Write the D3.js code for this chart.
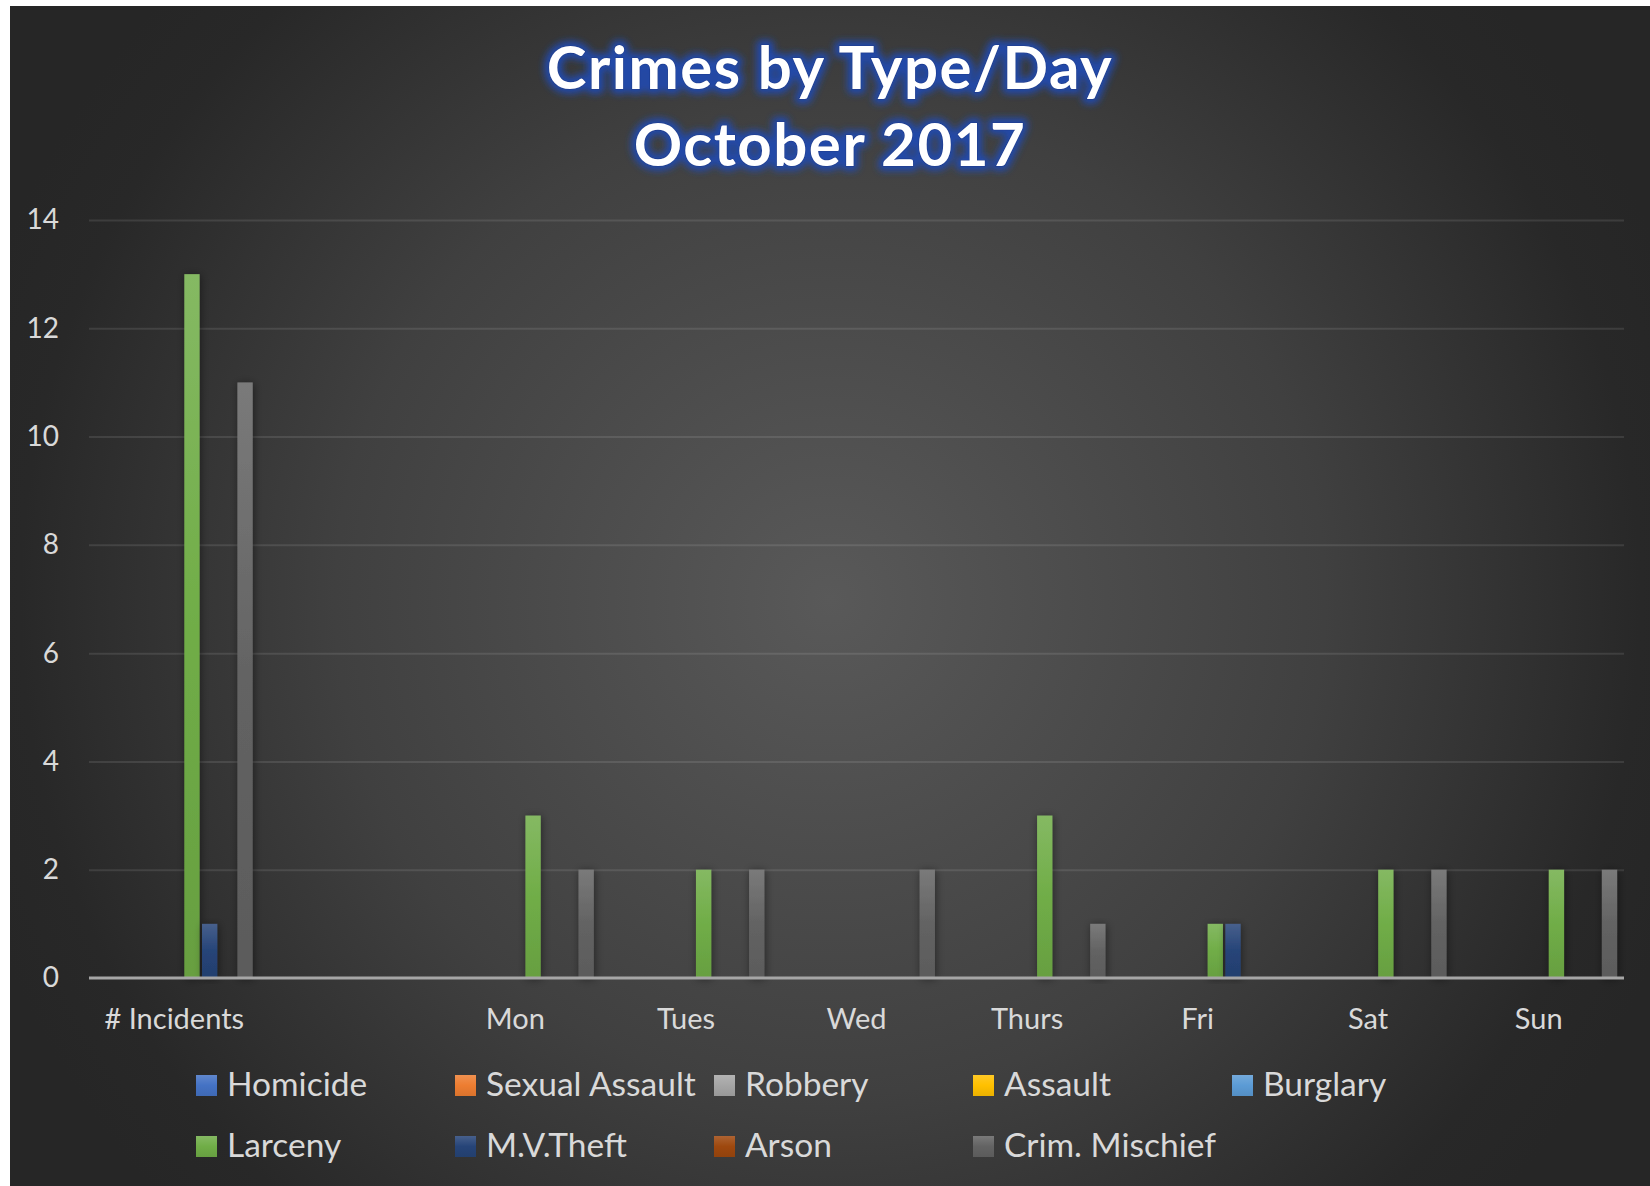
<!DOCTYPE html>
<html>
<head>
<meta charset="utf-8">
<script src="https://cdn.jsdelivr.net/npm/d3@7"></script>
<style>
  body { margin: 0; background: #fff; }
  svg { display: block; }
</style>
</head>
<body>
<div id="chart"></div>
<script>
const categories = ['# Incidents', '', 'Mon', 'Tues', 'Wed', 'Thurs', 'Fri', 'Sat', 'Sun'];
const seriesNames = ['Homicide', 'Sexual Assault', 'Robbery', 'Assault', 'Burglary', 'Larceny', 'M.V.Theft', 'Arson', 'Crim. Mischief'];
const seriesColors = ['#4472c4', '#ed7d31', '#a5a5a5', '#ffc000', '#5b9bd5', '#70ad47', '#264478', '#9e480e', '#636363'];

// one value per category, same order as categories
const homicide      = [0, 0, 0, 0, 0, 0, 0, 0, 0];
const sexualAssault = [0, 0, 0, 0, 0, 0, 0, 0, 0];
const robbery       = [0, 0, 0, 0, 0, 0, 0, 0, 0];
const assault       = [0, 0, 0, 0, 0, 0, 0, 0, 0];
const burglary      = [0, 0, 0, 0, 0, 0, 0, 0, 0];
const larceny       = [13, 0, 3, 2, 0, 3, 1, 2, 2];
const mvTheft       = [1, 0, 0, 0, 0, 0, 1, 0, 0];
const arson         = [0, 0, 0, 0, 0, 0, 0, 0, 0];
const crimMischief  = [11, 0, 2, 2, 2, 1, 0, 2, 2];

const seriesValues = [homicide, sexualAssault, robbery, assault, burglary, larceny, mvTheft, arson, crimMischief];
const yTicks = [0, 2, 4, 6, 8, 10, 12, 14];
const titleLines = ['Crimes by Type/Day', 'October 2017'];

const width = 1650;
const height = 1186;
const plot = { left: 89, right: 1624, top: 220, bottom: 978 };
const font = 'Lato, "Open Sans", sans-serif';

const svg = d3.select('#chart').append('svg')
  .attr('width', width)
  .attr('height', height);

const defs = svg.append('defs');

// chart area background: circular radial gradient
const bg = defs.append('radialGradient')
  .attr('id', 'bg')
  .attr('gradientUnits', 'userSpaceOnUse')
  .attr('cx', 830).attr('cy', 600).attr('r', 900);
bg.append('stop').attr('offset', 0).attr('stop-color', '#595959');
bg.append('stop').attr('offset', 0.55).attr('stop-color', '#404040');
bg.append('stop').attr('offset', 0.9).attr('stop-color', '#282828');
bg.append('stop').attr('offset', 1).attr('stop-color', '#262626');

// bar gradients, lighter at the top
seriesColors.forEach((c, i) => {
  const g = defs.append('linearGradient')
    .attr('id', 'bar' + i)
    .attr('x1', 0).attr('y1', 0).attr('x2', 0).attr('y2', 1);
  g.append('stop').attr('offset', 0).attr('stop-color', d3.interpolateRgb(c, '#fff')(0.15));
  g.append('stop').attr('offset', 0.5).attr('stop-color', c);
  g.append('stop').attr('offset', 1).attr('stop-color', d3.interpolateRgb(c, '#000')(0.08));
});

const shadow = defs.append('filter')
  .attr('id', 'shadow')
  .attr('x', '-100%').attr('y', '-10%').attr('width', '300%').attr('height', '120%');
shadow.append('feDropShadow')
  .attr('dx', 1).attr('dy', 1)
  .attr('stdDeviation', 4)
  .attr('flood-color', '#000')
  .attr('flood-opacity', 0.45);

const glow = defs.append('filter')
  .attr('id', 'glow')
  .attr('x', '-10%').attr('y', '-30%').attr('width', '120%').attr('height', '160%');
glow.append('feGaussianBlur').attr('stdDeviation', 3.5);

svg.append('rect')
  .attr('x', 10).attr('y', 6)
  .attr('width', width - 10).attr('height', height - 6)
  .attr('fill', 'url(#bg)');

// Scales
const x0 = d3.scaleBand()
  .domain(categories)
  .range([plot.left, plot.right])
  .padding(0);

const x1 = d3.scaleBand()
  .domain(seriesNames)
  .range([6.85, x0.bandwidth() - 6.85])
  .paddingInner(0.135)
  .paddingOuter(0);

const y = d3.scaleLinear()
  .domain([0, 14])
  .range([plot.bottom, plot.top]);

// Gridlines
svg.append('g')
  .attr('transform', `translate(${plot.left},0)`)
  .call(d3.axisLeft(y).tickValues(yTicks.slice(1)).tickSize(-(plot.right - plot.left)).tickFormat(''))
  .call(g => g.select('.domain').remove())
  .call(g => g.selectAll('line').attr('stroke', '#ffffff').attr('stroke-opacity', 0.1).attr('stroke-width', 2));

// Y tick labels
svg.append('g')
  .attr('transform', `translate(59,0)`)
  .call(d3.axisLeft(y).tickValues(yTicks).tickSize(0).tickPadding(0))
  .call(g => g.select('.domain').remove())
  .call(g => g.selectAll('text')
    .attr('fill', '#d9d9d9')
    .attr('font-family', font)
    .attr('font-size', 28));

// Bars
const gCats = svg.append('g')
  .selectAll('g')
  .data(categories)
  .join('g')
  .attr('transform', d => `translate(${x0(d)},0)`);

gCats.selectAll('rect')
  .data((d, ci) => seriesNames.map((name, si) => ({ name, si, value: seriesValues[si][ci] })).filter(b => b.value > 0))
  .join('rect')
  .attr('x', d => x1(d.name))
  .attr('width', x1.bandwidth())
  .attr('y', d => y(d.value))
  .attr('height', d => y(0) - y(d.value))
  .attr('fill', d => `url(#bar${d.si})`)
  .attr('filter', 'url(#shadow)');

// Baseline
svg.append('line')
  .attr('x1', plot.left).attr('x2', plot.right)
  .attr('y1', y(0)).attr('y2', y(0))
  .attr('stroke', '#a6a6a6')
  .attr('stroke-width', 3);

// Category labels
svg.append('g')
  .attr('transform', `translate(0,${plot.bottom + 30})`)
  .call(d3.axisBottom(x0).tickSize(0).tickPadding(0))
  .call(g => g.select('.domain').remove())
  .call(g => g.selectAll('text')
    .attr('fill', '#d9d9d9')
    .attr('font-family', font)
    .attr('font-size', 29));

// Legend
const legendCols = [196, 455, 714, 973, 1232];
const legendRows = [1096, 1157];
const legend = svg.append('g')
  .selectAll('g')
  .data(seriesNames)
  .join('g')
  .attr('transform', (d, i) => `translate(${legendCols[i % 5]},${legendRows[Math.floor(i / 5)]})`);

legend.append('rect')
  .attr('x', 0).attr('y', -21)
  .attr('width', 21).attr('height', 21)
  .attr('fill', (d, i) => `url(#bar${i})`);

legend.append('text')
  .attr('x', 31)
  .attr('y', 0)
  .attr('fill', '#d9d9d9')
  .attr('font-family', font)
  .attr('font-size', 33.5)
  .text(d => d);

// Title with blue glow
const title = svg.append('g')
  .attr('font-family', font)
  .attr('font-weight', 'bold')
  .attr('font-size', 60)
  .attr('letter-spacing', 1.5)
  .attr('text-anchor', 'middle');

const titleY = [89, 166];

title.append('g')
  .attr('filter', 'url(#glow)')
  .selectAll('text')
  .data(titleLines)
  .join('text')
  .attr('x', 830)
  .attr('y', (d, i) => titleY[i])
  .attr('fill', '#2448a8')
  .attr('stroke', '#2448a8')
  .attr('stroke-width', 10)
  .attr('stroke-linejoin', 'round')
  .text(d => d);

title.append('g')
  .selectAll('text')
  .data(titleLines)
  .join('text')
  .attr('x', 830)
  .attr('y', (d, i) => titleY[i])
  .attr('fill', '#ffffff')
  .attr('stroke', '#1c3a8c')
  .attr('stroke-width', 1.2)
  .attr('paint-order', 'stroke')
  .text(d => d);
</script>
</body>
</html>
